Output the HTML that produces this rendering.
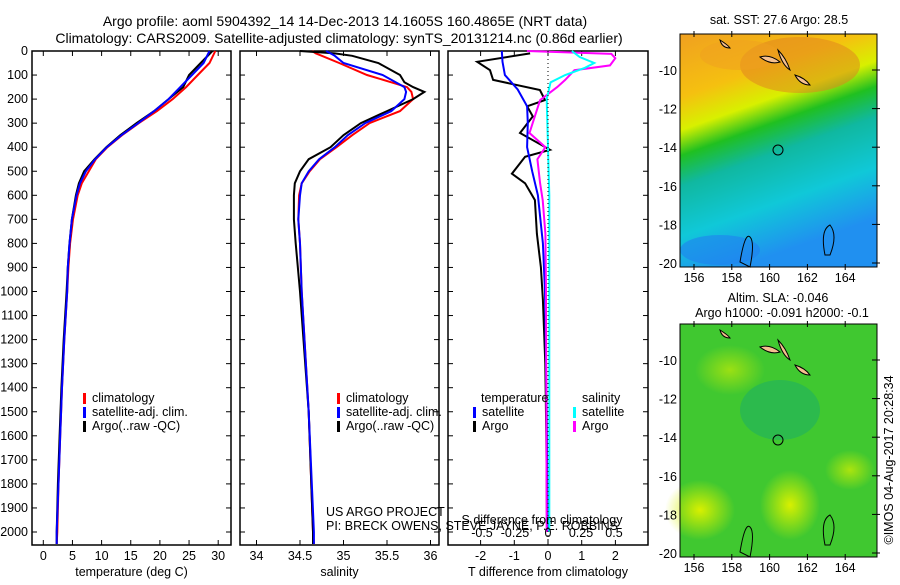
<!DOCTYPE html>
<html><head><meta charset="utf-8">
<style>
body{margin:0;background:#fff;width:900px;height:580px;overflow:hidden;font-family:"Liberation Sans",sans-serif;}
svg text{font-family:"Liberation Sans",sans-serif;font-size:12.5px;fill:#000;}
svg text.title{font-size:14px;}
</style></head><body>
<svg id="chart" width="900" height="580" viewBox="0 0 900 580" xmlns="http://www.w3.org/2000/svg">
<defs>
<linearGradient id="sstg" x1="0" y1="0" x2="0.3" y2="1">
<stop offset="0" stop-color="#f0a020"/><stop offset="0.25" stop-color="#f5c010"/><stop offset="0.38" stop-color="#d8f000"/><stop offset="0.48" stop-color="#20c020"/><stop offset="0.6" stop-color="#10b8a0"/><stop offset="0.8" stop-color="#10c8d8"/><stop offset="1" stop-color="#2090f0"/>
</linearGradient>
<radialGradient id="y1" cx="0.5" cy="0.5" r="0.5"><stop offset="0" stop-color="#d8f000"/><stop offset="1" stop-color="#d8f000" stop-opacity="0"/></radialGradient>
</defs>
<g id="titles">
<text class="title" x="345" y="26" text-anchor="middle">Argo profile: aoml 5904392_14 14-Dec-2013 14.1605S 160.4865E (NRT data)</text>
<text class="title" x="339" y="43" text-anchor="middle">Climatology: CARS2009. Satellite-adjusted climatology: synTS_20131214.nc (0.86d earlier)</text>
</g>
<g id="panels"></g>
<g>
<text x="779" y="24" text-anchor="middle">sat. SST: 27.6 Argo: 28.5</text>
<rect x="680" y="34" width="197" height="233" fill="url(#sstg)"/>
<ellipse cx="800" cy="65" rx="60" ry="28" fill="#e08020" opacity="0.5"/>
<ellipse cx="740" cy="55" rx="40" ry="15" fill="#f0a020" opacity="0.5"/>
<ellipse cx="720" cy="250" rx="40" ry="15" fill="#2080f0" opacity="0.6"/>
<circle cx="778" cy="150" r="5" fill="none" stroke="#000"/>
<path d="M760 57 q10 -3 20 5 q-10 3 -20 -5Z M778 50 q8 8 12 20 q-8 -5 -12 -20Z M795 75 q10 3 15 10 q-10 0 -15 -10Z M720 40 q8 5 10 8 q-8 0 -10 -8Z" fill="#f5c090" stroke="#000"/>
<path d="M740 262 q5 -30 10 -25 q5 5 0 30Z M825 255 q-5 -25 5 -30 q8 10 0 30Z" fill="none" stroke="#000"/>
<rect x="680" y="34" width="197" height="233" fill="none" stroke="#000"/>
<g id="map1axes"></g>
</g>
<g>
<text x="778" y="302" text-anchor="middle">Altim. SLA: -0.046</text>
<text x="782" y="317" text-anchor="middle">Argo h1000: -0.091 h2000: -0.1</text>
<rect x="680" y="324" width="197" height="233" fill="#40c830"/>
<ellipse cx="700" cy="510" rx="35" ry="30" fill="url(#y1)"/>
<ellipse cx="790" cy="505" rx="30" ry="35" fill="url(#y1)"/>
<ellipse cx="730" cy="370" rx="35" ry="25" fill="url(#y1)" opacity="0.6"/>
<ellipse cx="850" cy="470" rx="25" ry="20" fill="url(#y1)" opacity="0.7"/>
<ellipse cx="780" cy="410" rx="40" ry="30" fill="#20b060" opacity="0.6"/>
<circle cx="778" cy="440" r="5" fill="none" stroke="#000"/>
<path d="M760 347 q10 -3 20 5 q-10 3 -20 -5Z M778 340 q8 8 12 20 q-8 -5 -12 -20Z M795 365 q10 3 15 10 q-10 0 -15 -10Z M720 330 q8 5 10 8 q-8 0 -10 -8Z" fill="#f5c090" stroke="#000"/>
<path d="M740 552 q5 -30 10 -25 q5 5 0 30Z M825 545 q-5 -25 5 -30 q8 10 0 30Z" fill="none" stroke="#000"/>
<rect x="680" y="324" width="197" height="233" fill="none" stroke="#000"/>
<g id="map2axes"></g>
</g>
<text transform="translate(893,460) rotate(-90)" text-anchor="middle">©IMOS 04-Aug-2017 20:28:34</text>
</svg>
<script>
// ---- data ----
const tDepth = [0,50,100,150,200,250,300,350,400,450,500,550,600,700,800,900,1000,1200,1400,1600,1800,2000,2050];
const tClim  = [29.5,28.5,26.5,24.5,22.2,19.5,16.4,13.5,11,9,7.8,6.6,5.9,5.1,4.6,4.3,4.1,3.6,3.2,2.9,2.6,2.4,2.3];
const tSat   = [28.5,27.5,25.5,23.5,21.5,19,16.3,13.4,10.9,8.9,7.3,6.3,5.7,4.9,4.5,4.2,4.1,3.6,3.2,2.9,2.6,2.3,2.3];
const tArgo  = [29,27,25,24,21.5,19,16,13.2,10.8,8.8,7,6.1,5.6,4.9,4.5,4.2,4,3.5,3.1,2.8,2.5,2.3,2.3];
const sDepth = [0,10,20,50,100,130,150,170,200,250,300,350,400,450,500,550,600,700,800,1000,1500,2000,2050];
const sClim  = [34.64,34.68,34.75,34.95,35.27,35.55,35.73,35.78,35.8,35.65,35.3,35.1,34.92,34.73,34.61,34.52,34.49,34.48,34.5,34.52,34.6,34.65,34.66];
const sSat   = [34.8,34.85,34.9,35.0,35.45,35.6,35.7,35.72,35.7,35.55,35.25,35.05,34.9,34.72,34.6,34.52,34.5,34.48,34.5,34.52,34.6,34.66,34.66];
const sArgo  = [34.5,34.9,35.1,35.4,35.65,35.7,35.8,35.93,35.8,35.5,35.2,35.0,34.85,34.6,34.5,34.44,34.43,34.43,34.45,34.5,34.6,34.65,34.65];
const dtDepth = [10,45,80,120,162,204,230,272,341,411,440,510,550,620,760,900,1035,1300,1600,2000];
const dtArgo  = [-0.53,-2.1,-1.72,-1.63,-0.24,-0.09,-0.62,-0.45,-0.83,0.06,-0.68,-1.07,-0.68,-0.39,-0.33,-0.21,-0.15,-0.08,-0.05,-0.03];
const dtSatDepth = [0,45,100,160,230,300,400,500,600,800,1000,1500,2000];
const dtSat   = [-1.37,-1.35,-1.28,-0.9,-0.62,-0.6,-0.62,-0.47,-0.3,-0.15,-0.09,-0.04,-0.01];
const dsSatDepth = [0,25,50,70,100,130,200,400,600,1000,2000];
const dsSat   = [0.18,0.24,0.35,0.28,0.13,0.02,-0.01,0,0.01,0.01,0.01];
const dsArgoDepth = [0,12,30,60,80,120,150,204,272,341,400,450,550,620,760,1000,2000];
const dsArgo  = [-0.16,0.48,0.51,0.47,0.2,0.13,0.07,-0.06,-0.1,-0.14,-0.02,-0.08,-0.06,-0.04,-0.02,-0.015,-0.01];
const depthTicks = [0,100,200,300,400,500,600,700,800,900,1000,1100,1200,1300,1400,1500,1600,1700,1800,1900,2000];
const tTicks = [0,5,10,15,20,25,30];
const sTicks = [34,34.5,35,35.5,36];
const dtTicks = [-2,-1,0,1,2];
const dsTicks = [-0.5,-0.25,0,0.25,0.5];
const dsTickLabels = ['-0.5','-0.25','0','0.25','0.5'];
const latTicks = [-10,-12,-14,-16,-18,-20];
const lonTicks = [156,158,160,162,164];

// ---- axes ----
const NS='http://www.w3.org/2000/svg';
const G=document.getElementById('panels');
const top0=51, bot=545;
const yD = d => top0 + d*0.2405;
const xT = v => 43.3 + v*5.83;
const xS = v => 256.5 + (v-34)*87;
const xDT = v => 548 + v*33.7;
const xDS = v => 548 + v*132;
const xLon = v => 694 + (v-156)*18.9;
const yLat = (v,top) => top + 36 + (-10 - v)*19.3;
function el(tag,attrs,parent){const e=document.createElementNS(NS,tag);for(const k in attrs)e.setAttribute(k,attrs[k]);(parent||G).appendChild(e);return e;}
function txt(x,y,s,anchor,parent){const t=el('text',{x:x,y:y,'text-anchor':anchor||'start'},parent);t.textContent=s;return t;}

function panel(name,x0,x1,xf,ticks,labels,xlabel,lines){
  const g=el('g',{});
  
  
  el('rect',{x:x0,y:top0,width:x1-x0,height:bot-top0,fill:'none',stroke:'#000','stroke-width':1.5},g);
  depthTicks.forEach(d=>{el('line',{x1:x0,x2:x0+5,y1:yD(d),y2:yD(d),stroke:'#000'},g);el('line',{x1:x1-5,x2:x1,y1:yD(d),y2:yD(d),stroke:'#000'},g);});
  ticks.forEach((v,i)=>{const x=xf(v);el('line',{x1:x,x2:x,y1:bot-5,y2:bot,stroke:'#000'},g);el('line',{x1:x,x2:x,y1:top0,y2:top0+5,stroke:'#000'},g);
    const t=txt(x,560,labels[i],'middle',g);});
  const xl=txt((x0+x1)/2,576,xlabel,'middle',g);
  
  
  lines.forEach(L=>{const pts=L.d.map((d,i)=>L.f(L.v[i]).toFixed(1)+','+yD(d).toFixed(1)).join(' ');
    const p=el('polyline',{points:pts,fill:'none',stroke:L.c,'stroke-width':2},g);
    
    });
  return g;
}
const g1=panel('temperature-panel',32,231,xT,tTicks,tTicks.map(String),'temperature (deg C)',[
 {d:tDepth,v:tClim,f:xT,c:'#ff0000',n:'temp-climatology-line'},
 {d:tDepth,v:tArgo,f:xT,c:'#000',n:'temp-argo-line'},
 {d:tDepth,v:tSat,f:xT,c:'#0000ff',n:'temp-satellite-line'}]);
depthTicks.forEach(d=>{const t=txt(28,yD(d)+4,String(d),'end');});
const g2=panel('salinity-panel',240,439,xS,sTicks,sTicks.map(String),'salinity',[
 {d:sDepth,v:sClim,f:xS,c:'#ff0000',n:'sal-climatology-line'},
 {d:sDepth,v:sArgo,f:xS,c:'#000',n:'sal-argo-line'},
 {d:sDepth,v:sSat,f:xS,c:'#0000ff',n:'sal-satellite-line'}]);
const g3=panel('difference-panel',448,648,xDT,dtTicks,dtTicks.map(String),'T difference from climatology',[
 {d:dtDepth,v:dtArgo,f:xDT,c:'#000',n:'dt-argo-line'},
 {d:dtSatDepth,v:dtSat,f:xDT,c:'#0000ff',n:'dt-satellite-line'},
 {d:dsArgoDepth,v:dsArgo,f:xDS,c:'#ff00ff',n:'ds-argo-line'},
 {d:dsSatDepth,v:dsSat,f:xDS,c:'#00ffff',n:'ds-satellite-line'}]);
el('line',{x1:548,x2:548,y1:top0,y2:bot,stroke:'#000','stroke-dasharray':'1,3'},g3);
dsTicks.forEach((v,i)=>{const t=txt(xDS(v),537,dsTickLabels[i],'middle',g3);});
const st=txt(542,524,'S difference from climatology','middle',g3);



function legend(g,x,y,items){items.forEach((it,i)=>{el('rect',{x:x,y:y+i*14-9,width:3,height:11,fill:it[0]},g);const t=txt(x+9,y+i*14,it[1],'start',g);});}
legend(g1,83,402,[['#ff0000','climatology'],['#0000ff','satellite-adj. clim.'],['#000','Argo(..raw -QC)']]);
legend(g2,337,402,[['#ff0000','climatology'],['#0000ff','satellite-adj. clim.'],['#000','Argo(..raw -QC)']]);
txt(481,402,'temperature','start',g3);
txt(582,402,'salinity','start',g3);
legend(g3,473,416,[['#0000ff','satellite'],['#000','Argo']]);
legend(g3,573,416,[['#00ffff','satellite'],['#ff00ff','Argo']]);
txt(326,516,'US ARGO PROJECT','start',g2);
txt(326,530,'PI: BRECK OWENS, STEVE JAYNE, P.E. ROBBINS','start',g2);

function mapAxes(id,top){
  const g=document.getElementById(id);
  const b=top+233;
  latTicks.forEach(v=>{const y=yLat(v,top);el('line',{x1:872,x2:880,y1:y,y2:y,stroke:'#000'},g);
    const t=txt(677,y+5,String(v),'end',g);});
  lonTicks.forEach(v=>{const x=xLon(v);el('line',{x1:x,x2:x,y1:top-3,y2:top+3,stroke:'#000'},g);el('line',{x1:x,x2:x,y1:b-3,y2:b+3,stroke:'#000'},g);
    const t=txt(x,b+15,String(v),'middle',g);});
}
mapAxes('map1axes',34);
mapAxes('map2axes',324);
</script>
</body></html>
